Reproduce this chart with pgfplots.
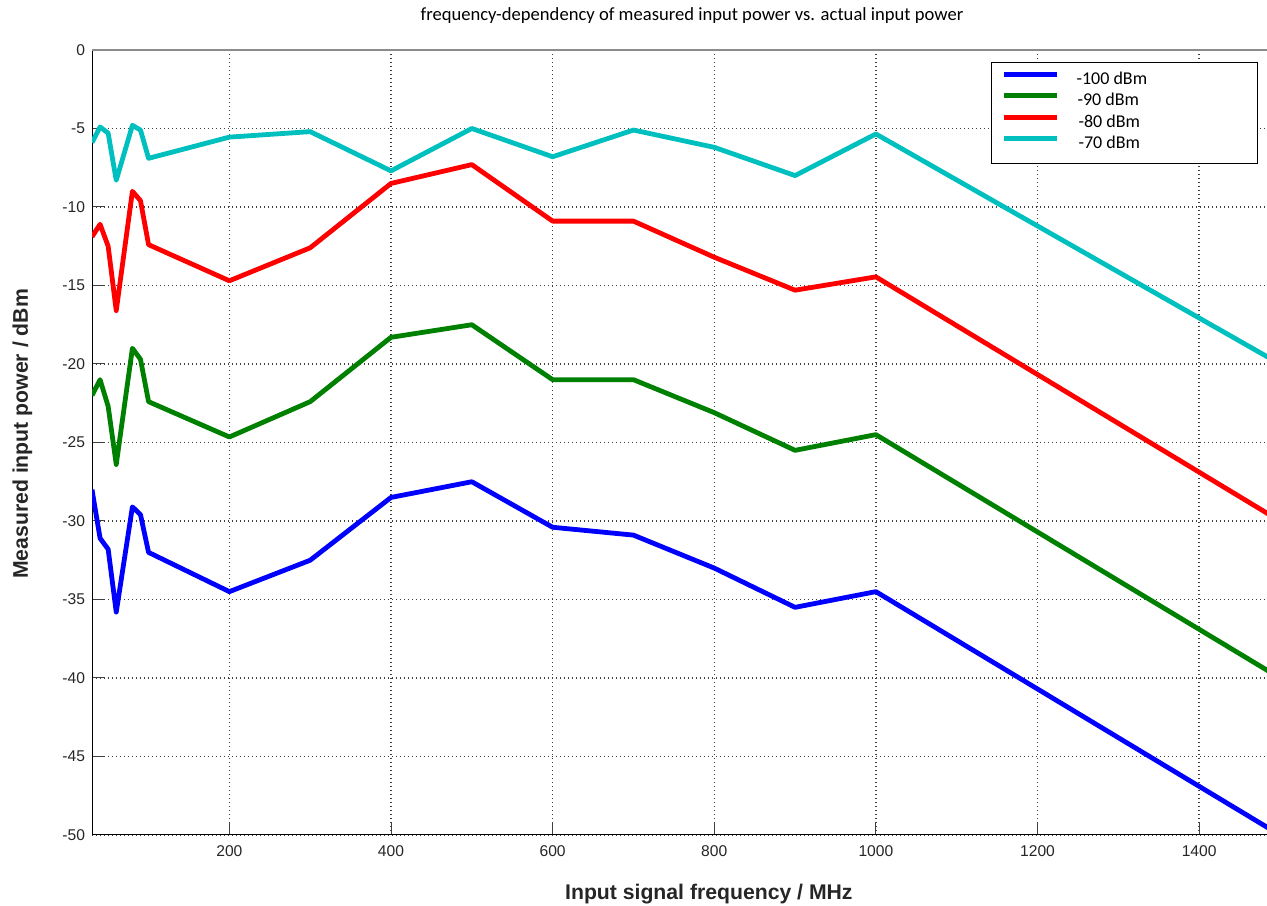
\documentclass[border=0pt]{standalone}
\usepackage{fontspec}
\setmainfont{Liberation Sans}
\newfontfamily\calfont{Carlito}
\usepackage{pgfplots}
\pgfplotsset{compat=1.18}
\definecolor{mblue}{RGB}{0,0,255}
\definecolor{mgreen}{RGB}{0,128,0}
\definecolor{mred}{RGB}{255,0,0}
\definecolor{mcyan}{RGB}{0,191,191}
\begin{document}
\begin{tikzpicture}
\begin{axis}[
  scale only axis, width=587.5pt, height=392.5pt,
  xmin=30, xmax=1484, ymin=-50, ymax=0,
  enlargelimits=false,
  axis x line=bottom, axis y line=left,
  x axis line style={-, line width=0.5pt, black},
  y axis line style={-, line width=0.5pt, black},
  xtick={200,400,...,1400}, ytick={-50,-45,...,0},
  tick align=inside, major tick length=6pt,
  tick style={line width=0.5pt, black!75},
  grid=major, grid style={dash pattern=on 0.6pt off 1.4pt, line width=0.65pt, black!75},
  ticklabel style={font=\fontsize{7.8}{9}\selectfont, text=black!85},
  xticklabel style={yshift=-2pt},
  /pgf/number format/assume math mode=true,
  /pgf/number format/1000 sep={},
  every axis title shift=0pt,
  title={frequency-dependency of measured input power vs. actual input power},
  title style={at={(axis description cs:0.5106,1.0373)}, anchor=base, inner sep=0pt, yshift=0pt,
    font=\calfont\fontsize{9.3}{10}\selectfont},
  xlabel={Input signal frequency / MHz},
  xlabel style={at={(axis description cs:0.525,-0.0828)}, anchor=base, inner sep=0pt,
    font=\bfseries\fontsize{10.6}{12}\selectfont, text=black!85},
  ylabel={Measured input power / dBm},
  ylabel style={at={(axis description cs:-0.0545,0.511)}, anchor=base, inner sep=0pt,
    font=\bfseries\fontsize{10.6}{12}\selectfont, text=black!85},
  legend style={at={(axis description cs:0.9924,0.9847)}, anchor=north east,
    draw=black, line width=0.5pt, inner xsep=0pt, inner ysep=3.75pt,
    row sep=0pt, column sep=0pt,
    font=\calfont\fontsize{9}{10}\selectfont,
    nodes={inner sep=0pt, text height=7pt, text depth=3.75pt}},
  legend cell align=left,
  legend image code/.code={\path (0pt,0pt); \draw[#1, line width=2.6pt] (5pt,3.2pt) -- (31.5pt,3.2pt);},
  every axis plot/.append style={line width=2.4pt, line join=round, no markers},
]
\coordinate (bl) at (rel axis cs:0,0);
\coordinate (tr) at (rel axis cs:1,1);
\draw[black!45, line width=0.6pt] (rel axis cs:0,1) -- (rel axis cs:1,1);

\addplot[mblue] coordinates {
(30,-28.0) (40,-31.1) (50,-31.8) (60,-35.8) (80,-29.1) (90,-29.6) (100,-32.0)
(200,-34.5) (300,-32.5) (400,-28.5) (500,-27.5) (600,-30.4) (700,-30.9)
(800,-33.0) (900,-35.5) (1000,-34.5) (1500,-50.0)};
\addlegendentry{\makebox[99pt][l]{\hspace{8.5pt}-100 dBm}}

\addplot[mgreen] coordinates {
(30,-22.0) (40,-21.0) (50,-22.7) (60,-26.4) (80,-19.0) (90,-19.7) (100,-22.4)
(200,-24.65) (300,-22.4) (400,-18.3) (500,-17.5) (600,-21.0) (700,-21.0)
(800,-23.1) (900,-25.5) (1000,-24.5) (1500,-40.0)};
\addlegendentry{\makebox[99pt][l]{\hspace{9pt}-90 dBm}}

\addplot[mred] coordinates {
(30,-11.9) (40,-11.1) (50,-12.5) (60,-16.6) (80,-9.0) (90,-9.6) (100,-12.4)
(200,-14.7) (300,-12.6) (400,-8.5) (500,-7.3) (600,-10.9) (700,-10.9)
(800,-13.2) (900,-15.3) (1000,-14.45) (1500,-30.0)};
\addlegendentry{\makebox[99pt][l]{\hspace{9.5pt}-80 dBm}}

\addplot[mcyan] coordinates {
(30,-5.9) (40,-4.9) (50,-5.3) (60,-8.3) (80,-4.8) (90,-5.1) (100,-6.9)
(200,-5.55) (300,-5.2) (400,-7.7) (500,-5.0) (600,-6.8) (700,-5.1)
(800,-6.2) (900,-8.0) (1000,-5.35) (1500,-20.0)};
\addlegendentry{\makebox[99pt][l]{\hspace{9.5pt}-70 dBm}}
\end{axis}
\pgfresetboundingbox
\path[use as bounding box] ([xshift=-46pt,yshift=-35.5pt]bl) rectangle ([yshift=25pt]tr);
\end{tikzpicture}
\end{document}
